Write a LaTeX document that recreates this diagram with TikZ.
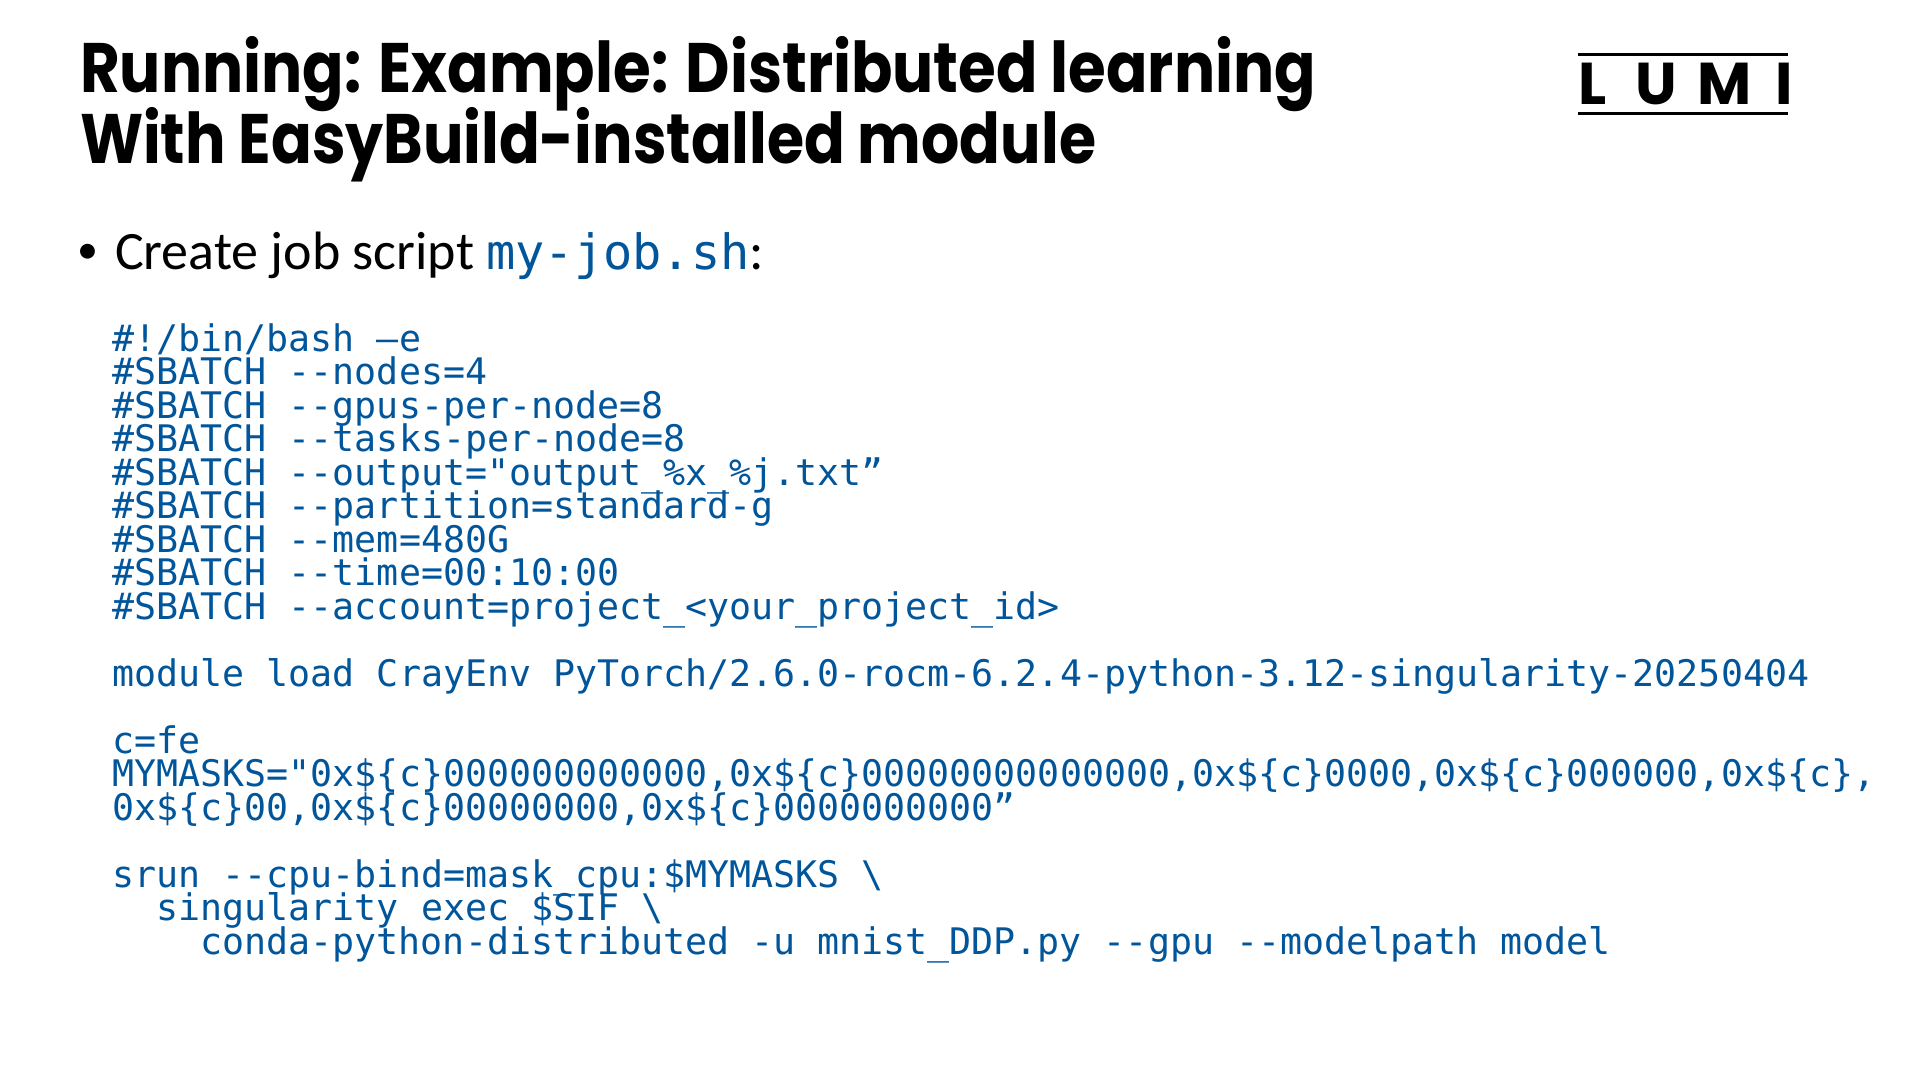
\documentclass[tikz,border=0pt]{standalone}
\usepackage{fontspec}
\usepackage{graphicx}
\setmainfont{Carlito}
\setmonofont{DejaVu Sans Mono}
\newfontfamily\titlefont{Poppins}
\definecolor{codeblue}{RGB}{0,85,155}
\begin{document}
\begin{tikzpicture}[x=1pt,y=-1pt,
  txt/.style={inner sep=0pt, outer sep=0pt, anchor=base west},
  code/.style={txt, font=\ttfamily\fontsize{36.6}{36.6}\selectfont, text=codeblue},
  ttl/.style={txt, font=\titlefont\bfseries\fontsize{70}{70}\selectfont},
  bullet/.style={txt, font=\fontsize{54}{54}\selectfont},
  bulletdot/.style={txt, font=\fontsize{42}{42}\selectfont},
  logoletter/.style={inner sep=0pt, outer sep=0pt, anchor=base, font=\titlefont\bfseries\fontsize{59}{59}\selectfont},
  logorule/.style={line width=3pt}]
\useasboundingbox (0,0) rectangle (1920,1080);
\fill[white] (0,0) rectangle (1920,1080);

% title
\node[ttl] (t1) at (80,92) {\resizebox{1236pt}{\height}{Running: Example: Distributed learning}};
\node[ttl] (t2) at (80,163) {\resizebox{1016pt}{\height}{With EasyBuild-installed module}};

% logo
\coordinate (lA) at (1578,54);
\coordinate (lB) at (1788,54);
\coordinate (lC) at (1578,113);
\coordinate (lD) at (1788,113);
\draw[logorule] (lA) -- (lB);
\draw[logorule] (lC) -- (lD);
\node[logoletter] (lL) at (1593,104) {L};
\node[logoletter] (lU) at (1656,104) {U};
\node[logoletter] (lM) at (1724.5,104) {M};
\node[logoletter] (lI) at (1784,104) {I};

% bullet
\node[bulletdot] (bdot) at (77,263.5) {•};
\node[bullet] (btext) at (115,269) {Create job script {\ttfamily\fontsize{48.6}{48.6}\selectfont\color{codeblue}my-job.sh}:};

% code
\node[code] (c1) at (112.6,351) {\#!/bin/bash –e};
\node[code] (c2) at (112.6,384.5) {\#SBATCH --nodes=4};
\node[code] (c3) at (112.6,418) {\#SBATCH --gpus-per-node=8};
\node[code] (c4) at (112.6,451.5) {\#SBATCH --tasks-per-node=8};
\node[code] (c5) at (112.6,485) {\#SBATCH --output="output\_\%x\_\%j.txt”};
\node[code] (c6) at (112.6,518.5) {\#SBATCH --partition=standard-g};
\node[code] (c7) at (112.6,552) {\#SBATCH --mem=480G};
\node[code] (c8) at (112.6,585.5) {\#SBATCH --time=00:10:00};
\node[code] (c9) at (112.6,619) {\#SBATCH --account=project\_<your\_project\_id>};
\node[code] (c10) at (112.6,686) {module load CrayEnv PyTorch/2.6.0-rocm-6.2.4-python-3.12-singularity-20250404};
\node[code] (c11) at (112.6,753) {c=fe};
\node[code] (c12) at (112.6,786.5) {MYMASKS="0x\$\{c\}000000000000,0x\$\{c\}00000000000000,0x\$\{c\}0000,0x\$\{c\}000000,0x\$\{c\},};
\node[code] (c13) at (112.6,820) {0x\$\{c\}00,0x\$\{c\}00000000,0x\$\{c\}0000000000”};
\node[code] (c14) at (112.6,887) {srun --cpu-bind=mask\_cpu:\$MYMASKS \textbackslash};
\node[code] (c15) at (156.6,920.5) {singularity exec \$SIF \textbackslash};
\node[code] (c16) at (200.6,954) {conda-python-distributed -u mnist\_DDP.py --gpu --modelpath model};
\end{tikzpicture}
\end{document}
